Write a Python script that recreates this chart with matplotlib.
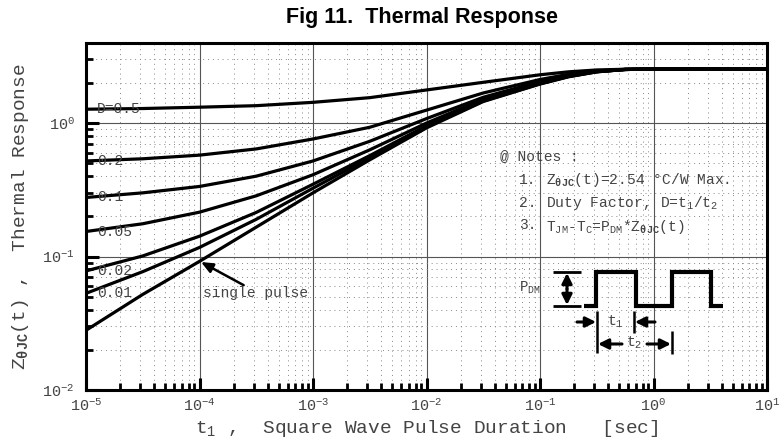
import matplotlib
matplotlib.use("Agg")
import matplotlib.pyplot as plt
from matplotlib.ticker import LogLocator, FixedLocator, NullFormatter, FuncFormatter
import numpy as np

plt.rcParams['mathtext.fontset'] = 'custom'
plt.rcParams['mathtext.rm'] = 'Liberation Mono'
plt.rcParams['mathtext.it'] = 'Liberation Mono'
plt.rcParams['mathtext.bf'] = 'Liberation Mono:bold'
plt.rcParams['mathtext.default'] = 'rm'

# ---- data ----
t_sec = [1e-5, 3.16e-5, 1e-4, 3.16e-4, 1e-3, 3.16e-3, 1e-2, 3.16e-2,
         0.1, 0.178, 0.316, 0.562, 1.0, 10.0]
z_single = [0.028, 0.052, 0.092, 0.166, 0.30, 0.53, 0.92, 1.45, 1.96, 2.22, 2.42, 2.52, 2.54, 2.54]
z_d001 = [0.053, 0.077, 0.117, 0.19, 0.325, 0.55, 0.935, 1.46, 1.97, 2.23, 2.42, 2.52, 2.54, 2.54]
z_d002 = [0.078, 0.101, 0.142, 0.214, 0.348, 0.57, 0.955, 1.475, 1.98, 2.24, 2.43, 2.52, 2.54, 2.54]
z_d005 = [0.154, 0.176, 0.215, 0.285, 0.41, 0.63, 1.0, 1.51, 2.01, 2.26, 2.43, 2.52, 2.54, 2.54]
z_d01 = [0.277, 0.30, 0.335, 0.40, 0.52, 0.73, 1.08, 1.56, 2.05, 2.28, 2.44, 2.52, 2.54, 2.54]
z_d02 = [0.52, 0.54, 0.575, 0.64, 0.76, 0.93, 1.25, 1.68, 2.12, 2.32, 2.46, 2.53, 2.54, 2.54]
z_d05 = [1.27, 1.285, 1.315, 1.35, 1.43, 1.55, 1.77, 2.02, 2.30, 2.42, 2.50, 2.53, 2.54, 2.54]

series = [z_d05, z_d02, z_d01, z_d005, z_d002, z_d001, z_single]
duty_labels = ["D=0.5", "0.2", "0.1", "0.05", "0.02", "0.01"]

x_ticks = [1e-5, 1e-4, 1e-3, 1e-2, 1e-1, 1e0, 1e1]
y_ticks = [1e-2, 1e-1, 1e0]

txt_col = '#444444'

fig = plt.figure(figsize=(7.79, 4.43), dpi=100)
ax = fig.add_axes([86/779, 1-390/443, (767-86)/779, (390-43)/443])
ax.set_xscale('log')
ax.set_yscale('log')
ax.set_xlim(1e-5, 10)
ax.set_ylim(1e-2, 3.98)

for s in series:
    ax.plot(t_sec, s, color='black', lw=2.3, solid_capstyle='butt', zorder=3)

# grid
ax.xaxis.set_major_locator(FixedLocator(x_ticks))
ax.yaxis.set_major_locator(FixedLocator(y_ticks))
ax.xaxis.set_minor_locator(LogLocator(base=10, subs=np.arange(2, 10), numticks=20))
ax.yaxis.set_minor_locator(LogLocator(base=10, subs=np.arange(2, 10), numticks=20))
ax.xaxis.set_minor_formatter(NullFormatter())
ax.yaxis.set_minor_formatter(NullFormatter())

def fmt(v, pos):
    e = int(round(np.log10(v)))
    return r'$10^{%d}$' % e
ax.xaxis.set_major_formatter(FuncFormatter(fmt))
ax.yaxis.set_major_formatter(FuncFormatter(fmt))

ax.grid(which='major', color='#555555', lw=0.8, ls='-')
ax.grid(which='minor', color='#888888', lw=0.7, ls=(0, (1, 4)))
ax.set_axisbelow(True)

for sp in ax.spines.values():
    sp.set_linewidth(2.2)

ax.tick_params(which='both', direction='in', top=False, right=False, colors='black',
               labelcolor=txt_col)
ax.tick_params(which='major', length=9, width=2.2, labelsize=11, pad=5)
ax.tick_params(axis='y', which='major', pad=8)
ax.tick_params(which='minor', length=5, width=2.0)
for lab in ax.get_xticklabels() + ax.get_yticklabels():
    lab.set_family('Liberation Mono')

ax.set_xlabel(r'$\mathrm{t_1}$ ,  Square Wave Pulse Duration   [sec]',
              family='Liberation Mono', fontsize=14, color=txt_col, labelpad=3)
ax.set_ylabel(r'$\mathrm{Z_{\mathbf{θJC}}}$(t) ,  Thermal Response',
              family='Liberation Mono', fontsize=14, color=txt_col, labelpad=8)

fig.text(422/779, 1 - 18/443, 'Fig 11.  Thermal Response', ha='center', va='center',
         fontsize=15.5, fontweight='bold', family='Liberation Sans')

# curve labels at left
for lab, s in zip(duty_labels, series[:-1]):
    ax.annotate(lab, xy=(t_sec[0], s[0]), xytext=(8, 0), textcoords='offset points',
                ha='left', va='center', family='Liberation Mono', fontsize=10.5,
                color=txt_col, zorder=4)

ax.annotate('', xy=(1.03e-4, 0.091), xytext=(2.45e-4, 0.061),
            arrowprops=dict(arrowstyle='-|>,head_length=0.7,head_width=0.3',
                            color='black', lw=1.8, shrinkA=0, shrinkB=0))
ax.text(1.08e-4, 0.0535, 'single pulse', family='Liberation Mono', fontsize=10.5,
        color=txt_col, ha='left', va='center')

# notes (axes-fraction positions)
def ax_xy(px, py):
    return ((px - 86) / (767 - 86), (390 - py) / (390 - 43))

notes_kw = dict(transform=ax.transAxes, family='Liberation Mono', fontsize=10.5,
                color=txt_col, ha='left', va='center')
ax.text(*ax_xy(500, 156), '@ Notes :', **notes_kw)
ax.text(*ax_xy(519, 180), '1.', **notes_kw)
ax.text(*ax_xy(546, 180), r'$\mathrm{Z_{\mathbf{θJC}}}$(t)=2.54 °C/W Max.', **notes_kw)
ax.text(*ax_xy(519, 203), '2.', **notes_kw)
ax.text(*ax_xy(546, 203), r'Duty Factor, D=$\mathrm{t_1}$/$\mathrm{t_2}$', **notes_kw)
ax.text(*ax_xy(519, 225), '3.', **notes_kw)
ax.text(*ax_xy(546, 227), r'$\mathrm{T_{JM}}$-$\mathrm{T_C}$=$\mathrm{P_{DM}}$*$\mathrm{Z_{\mathbf{θJC}}}$(t)', **notes_kw)

# pulse diagram
tr = ax.transAxes
def line(pts, lw=2.6):
    xs, ys = zip(*[ax_xy(px, py) for px, py in pts])
    ax.plot(xs, ys, transform=tr, color='black', lw=lw, solid_capstyle='butt',
            solid_joinstyle='miter', zorder=5, clip_on=False)

def arrow(p_from, p_to):
    ax.annotate('', xy=ax_xy(*p_to), xytext=ax_xy(*p_from), xycoords=tr, textcoords=tr,
                arrowprops=dict(arrowstyle='-|>,head_length=0.6,head_width=0.3',
                                color='black', lw=2.2, shrinkA=0, shrinkB=0), zorder=5)

# square wave
line([(584, 306), (596, 306), (596, 272), (636, 272), (636, 306), (672, 306),
      (672, 272), (711, 272), (711, 306), (723, 306)], lw=3.0)
# P_DM marker
line([(553, 272), (581, 272)], lw=2.0)
line([(553, 306), (581, 306)], lw=2.0)
arrow((567, 289), (567, 273))
arrow((567, 289), (567, 305))
ax.text(*ax_xy(530, 288), r'$\mathrm{P_{DM}}$', transform=tr, family='Liberation Mono',
        fontsize=10, color=txt_col, ha='center', va='center')
# t1 / t2 markers
line([(597, 311), (597, 353)], lw=1.8)
line([(634, 311), (634, 333)], lw=1.8)
line([(672, 331), (672, 354)], lw=1.8)
arrow((577, 322), (596, 322))
arrow((655, 322), (635, 322))
arrow((622, 344), (598, 344))
arrow((647, 344), (671, 344))
ax.text(*ax_xy(615, 322), r'$\mathrm{t_1}$', transform=tr, family='Liberation Mono',
        fontsize=10.5, color=txt_col, ha='center', va='center')
ax.text(*ax_xy(634, 343), r'$\mathrm{t_2}$', transform=tr, family='Liberation Mono',
        fontsize=10.5, color=txt_col, ha='center', va='center')

fig.savefig('out.png', dpi=100)
